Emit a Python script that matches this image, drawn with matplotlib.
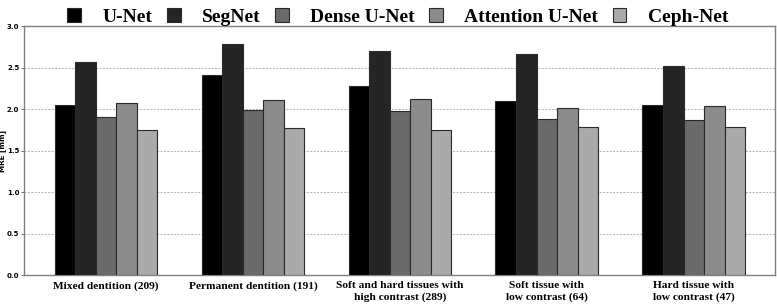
import matplotlib
matplotlib.use("Agg")
import matplotlib.pyplot as plt
import numpy as np

# groups along the x axis
categories = [
    "Mixed dentition (209)",
    "Permanent dentition (191)",
    "Soft and hard tissues with\nhigh contrast (289)",
    "Soft tissue with\nlow contrast (64)",
    "Hard tissue with\nlow contrast (47)",
]
models = ["U-Net", "SegNet", "Dense U-Net", "Attention U-Net", "Ceph-Net"]

# MRE [mm] per model, one value per group
unet = [2.05, 2.41, 2.28, 2.10, 2.05]
segnet = [2.57, 2.78, 2.70, 2.67, 2.52]
dense_unet = [1.91, 1.99, 1.98, 1.88, 1.87]
attention_unet = [2.08, 2.11, 2.12, 2.02, 2.04]
ceph_net = [1.75, 1.77, 1.75, 1.78, 1.79]

series = [unet, segnet, dense_unet, attention_unet, ceph_net]
colors = ["#000000", "#252525", "#6a6a6a", "#8c8c8c", "#aaaaaa"]

fig = plt.figure(figsize=(7.77, 3.07), dpi=100)
ax = fig.add_axes([0.0315, 0.103, 0.9665, 0.812])

x = np.arange(len(categories))
width = 0.14
for i, (vals, c, name) in enumerate(zip(series, colors, models)):
    ax.bar(x + (i - 2) * width, vals, width, color=c, edgecolor="#2a2a2a",
           linewidth=0.8, label=name, zorder=3)

ax.set_xlim(-0.555, len(categories) - 1 + 0.555)
ax.set_ylim(0, 3.0)
ax.set_yticks(np.arange(0, 3.01, 0.5))
ax.set_yticklabels([f"{v:.1f}" for v in np.arange(0, 3.01, 0.5)],
                   fontsize=5, fontweight="bold")
ax.tick_params(axis="y", length=2.5, width=0.6, pad=1.2, colors="#555555",
               labelcolor="black")
ax.set_xticks(x)
ax.set_xticklabels(categories, family="Liberation Serif", fontweight="bold",
                   fontsize=8.2, linespacing=1.4)
ax.tick_params(axis="x", length=0, pad=4)
ax.set_ylabel("MRE [mm]", fontsize=5.2, fontweight="bold")
ax.yaxis.set_label_coords(-0.025, 0.5)

ax.grid(axis="y", linestyle=(0, (2, 1.5)), color="#b0b0b0", linewidth=0.7,
        zorder=0)
for s in ax.spines.values():
    s.set_color("#808080")
    s.set_linewidth(1.0)

fig.legend(loc="upper center", bbox_to_anchor=(0.512, 1.03), ncol=5,
           frameon=False, prop={"family": "Liberation Serif", "weight": "bold",
                                "size": 14},
           handlelength=0.7, handleheight=0.7, handletextpad=1.1,
           columnspacing=0.75)

fig.savefig("out.png", dpi=100)
